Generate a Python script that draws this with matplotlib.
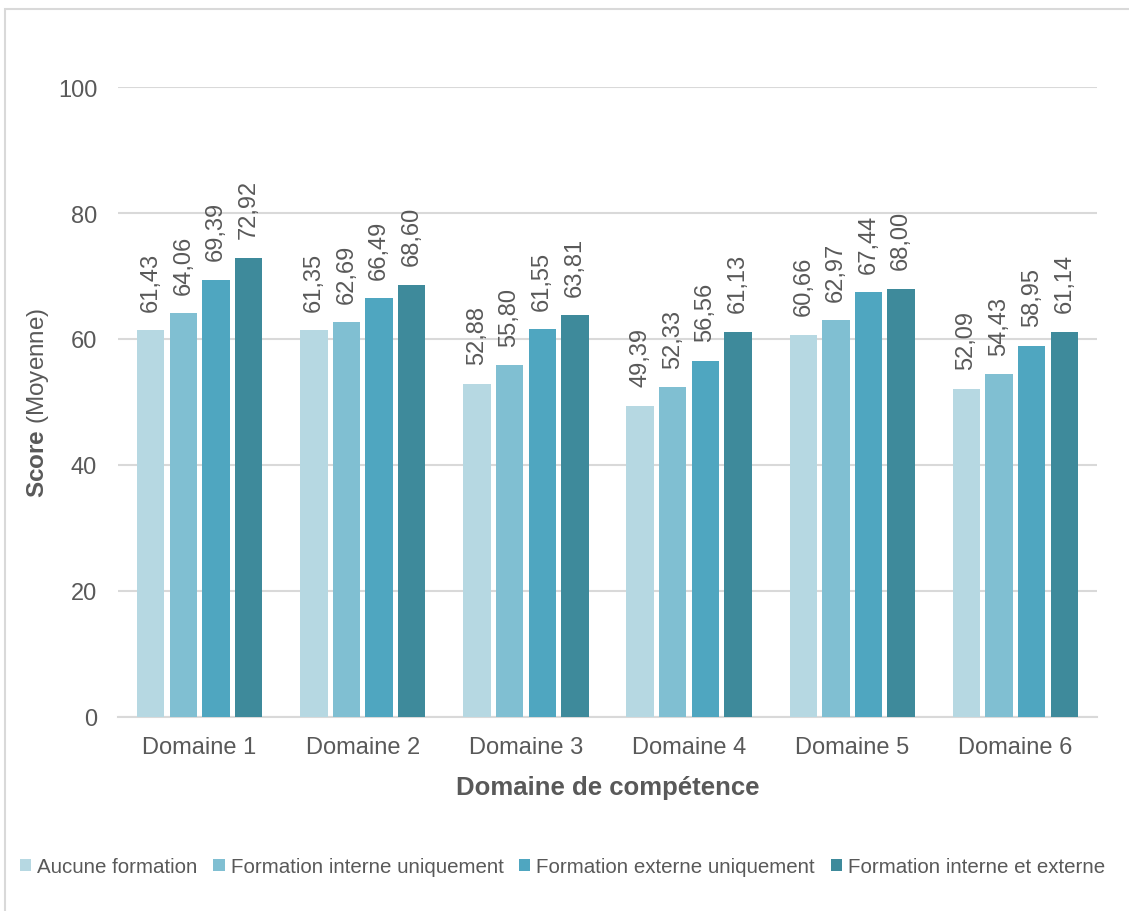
import matplotlib.pyplot as plt
from matplotlib.patches import Rectangle
import numpy as np

plt.rcParams['font.family'] = ['Liberation Sans', 'DejaVu Sans']
plt.rcParams['mathtext.fontset'] = 'custom'
plt.rcParams['mathtext.rm'] = 'Liberation Sans'
plt.rcParams['mathtext.bf'] = 'Liberation Sans:bold'

domaines = ["Domaine 1", "Domaine 2", "Domaine 3", "Domaine 4", "Domaine 5", "Domaine 6"]
series = ["Aucune formation", "Formation interne uniquement",
          "Formation externe uniquement", "Formation interne et externe"]
aucune = [61.43, 61.35, 52.88, 49.39, 60.66, 52.09]
interne = [64.06, 62.69, 55.80, 52.33, 62.97, 54.43]
externe = [69.39, 66.49, 61.55, 56.56, 67.44, 58.95]
les_deux = [72.92, 68.60, 63.81, 61.13, 68.00, 61.14]
couleurs = ["#b6d8e2", "#80bfd2", "#4fa6c0", "#3e8a9b"]

gris = "#595959"
fig = plt.figure(figsize=(11.29, 9.12), dpi=100)
ax = fig.add_axes([118/1129, 194/912, (1097-118)/1129, (718-88)/912])

# cadre du graphique
fig.patches.append(Rectangle((5/1129, -0.1), 1.2, (912-10)/912 + 0.1,
                             transform=fig.transFigure, fill=False,
                             edgecolor="#d9d9d9", linewidth=1.5))

x = np.arange(len(domaines))
slot = 0.2
width = 0.168
for i, (vals, c, nom) in enumerate(zip([aucune, interne, externe, les_deux], couleurs, series)):
    pos = x + (i - 1.5) * slot
    bars = ax.bar(pos, vals, width, color=c, label=nom, zorder=3)
    for b, v in zip(bars, vals):
        ax.annotate(f"{v:.2f}".replace(".", ","), (b.get_x() + b.get_width()/2, v),
                    xytext=(0, 14), textcoords="offset points", rotation=90,
                    ha="center", va="bottom", fontsize=17, color=gris)

ax.set_ylim(0, 100)
ax.set_xlim(-0.5, len(domaines) - 0.5)
ax.set_yticks([0, 20, 40, 60, 80, 100])
ax.set_xticks(x)
ax.set_xticklabels(domaines)
ax.tick_params(length=0, labelsize=17, colors=gris)
ax.tick_params(axis="y", pad=15)
ax.tick_params(axis="x", pad=14)
ax.grid(axis="y", color="#d9d9d9", linewidth=1.5, zorder=0)
for s in ["top", "right", "left"]:
    ax.spines[s].set_visible(False)
ax.spines["bottom"].set_color("#d9d9d9")
ax.spines["bottom"].set_linewidth(1.5)

ax.set_xlabel("Domaine de compétence", fontsize=18.5, fontweight="bold", color=gris, labelpad=12)
ax.set_ylabel(r"$\mathbf{Score}$ (Moyenne)", fontsize=17.5, color=gris, labelpad=5)

fig.legend(loc="center left", bbox_to_anchor=(20/1129, 1 - 868/912), borderaxespad=0,
           borderpad=0, ncol=4, frameon=False, fontsize=14.8, labelcolor=gris,
           handlelength=0.55, handleheight=0.55, handletextpad=0.3, columnspacing=0.75)

fig.savefig("out.png", dpi=100)
